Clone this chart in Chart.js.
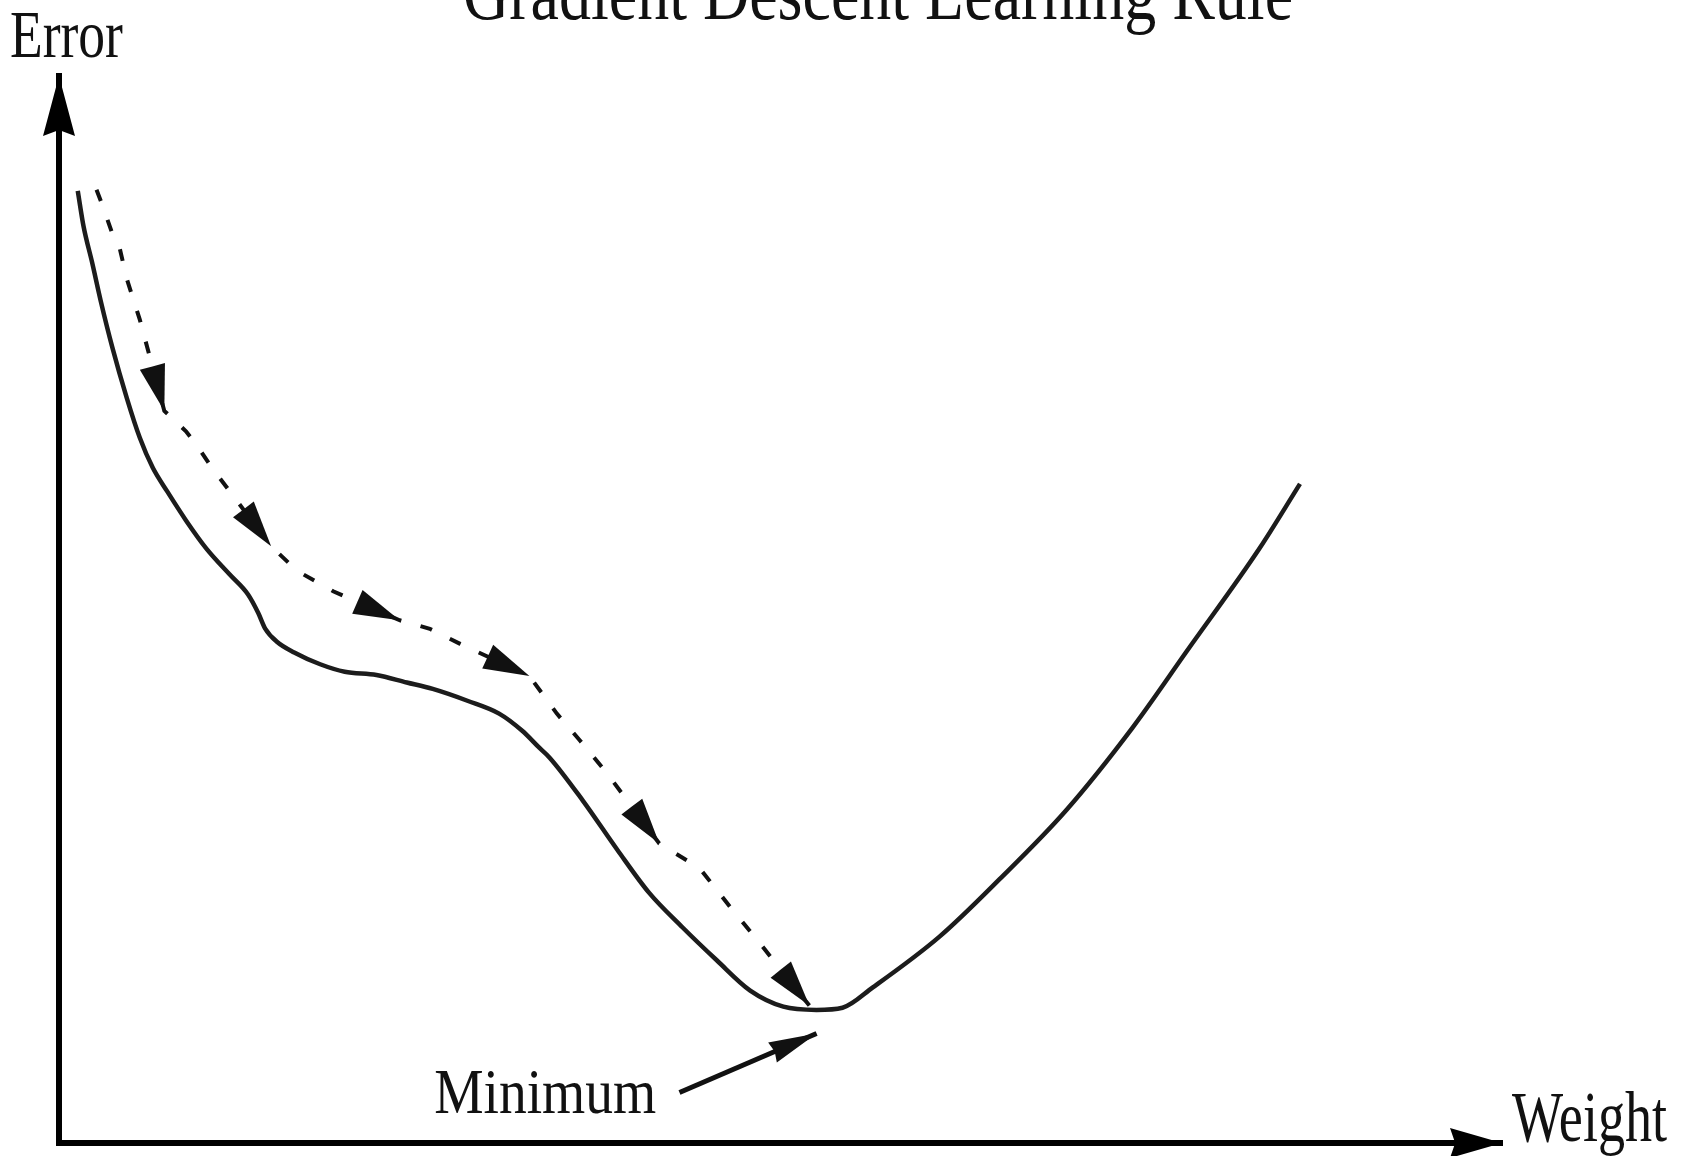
<!DOCTYPE html>
<html>
<head>
<meta charset="utf-8">
<script src="https://cdn.jsdelivr.net/npm/chart.js@4.4.1/dist/chart.umd.min.js"></script>
<style>
html,body{margin:0;padding:0;background:#fff;overflow:hidden}
canvas{display:block}
</style>
</head>
<body>
<canvas id="c" width="1690" height="1156"></canvas>
<script>
// ---- data (weight / error units) ----
const curveWeight = [1.3,1.7,2.3,2.9,3.7,4.7,5.6,6.5,7.5,8.8,10.2,11.8,13.1,13.8,14.3,15.1,16.3,18.1,19.8,22.0,24.1,25.9,28.3,30.5,32.1,33.3,34.0,36.3,38.7,40.9,43.2,45.6,47.9,50.2,52.5,54.3,56.4,61.0,65.2,69.8,74.4,78.2,83.2,86.0];
const curveError  = [88.7,85.4,82.0,78.4,74.1,69.4,65.7,62.9,60.7,58.0,55.4,53.0,51.1,49.4,47.9,46.7,45.7,44.6,43.9,43.6,42.9,42.3,41.2,40.0,38.4,36.8,35.9,31.9,27.3,23.3,20.1,17.0,14.2,12.7,12.4,12.6,14.5,19.2,24.6,31.0,38.7,45.9,55.4,61.4];

const descentWeight = [2.6,3.0,3.7,4.2,4.7,5.6,7.3,8.8,9.5,10.6,14.7,16.5,19.0,23.6,25.7,27.8,32.6,34.5,36.1,38.0,41.6,44.4,46.5,48.4,52.0];
const descentError  = [88.8,87.4,84.7,83.4,80.5,76.7,68.2,66.3,65.1,62.9,55.6,53.3,51.4,48.7,47.9,46.5,43.5,40.0,37.5,34.4,27.9,25.6,22.0,18.9,12.8];
const descentArrowTips = [6,10,13,16,20,24];

const minimumArrowWeight = [43.0, 52.5];
const minimumArrowError  = [4.7, 10.2];

const titleText = 'Gradient Descent Learning Rule';
const yAxisLabel = 'Error';
const xAxisLabel = 'Weight';
const minimumLabel = 'Minimum';

// ---- helpers ----
const toPoints = (xs, ys) => xs.map((x, i) => ({ x: x, y: ys[i] }));

const textPlacements = [
  { text: titleText,    x: 28.0,   y: 104.75, width: 830, capHeight: 50 },
  { text: yAxisLabel,   x: -3.4,   y: 101.2,  width: 113, capHeight: 45 },
  { text: xAxisLabel,   x: 100.7,  y: 0.2,    width: 155, capHeight: 47 },
  { text: minimumLabel, x: 26.0,   y: 2.8,    width: 222, capHeight: 42 }
];

function arrowHead(ctx, tx, ty, angle, len, half, notch, color) {
  ctx.save();
  ctx.translate(tx, ty);
  ctx.rotate(angle);
  ctx.beginPath();
  ctx.moveTo(0, 0);
  ctx.lineTo(-len, -half);
  ctx.lineTo(-len * notch, 0);
  ctx.lineTo(-len, half);
  ctx.closePath();
  ctx.fillStyle = color;
  ctx.fill();
  ctx.restore();
}

function stretchedText(ctx, text, x, baseline, width, capH) {
  const fontPx = capH / 0.662;
  ctx.save();
  ctx.font = fontPx + 'px "Liberation Serif", "Times New Roman", serif';
  const w = ctx.measureText(text).width;
  ctx.translate(x, baseline);
  ctx.scale(width / w, 1);
  ctx.fillStyle = '#111';
  ctx.textBaseline = 'alphabetic';
  ctx.textAlign = 'left';
  ctx.fillText(text, 0, 0);
  ctx.restore();
}

const diagramPlugin = {
  id: 'diagram',
  afterDatasetsDraw(chart) {
    const ctx = chart.ctx;
    const xs = chart.scales.x, ys = chart.scales.y;
    const area = chart.chartArea;

    // axis arrowheads
    const ox = xs.getPixelForValue(0);
    const oy = ys.getPixelForValue(0);
    arrowHead(ctx, ox, area.top, -Math.PI / 2, 60, 16, 0.9, '#000');
    arrowHead(ctx, area.right, oy, 0, 52, 15, 0.9, '#000');

    // descent step arrowheads
    const pts = chart.getDatasetMeta(1).data;
    descentArrowTips.forEach(i => {
      const tip = pts[i], prev = pts[i - 1];
      const a = Math.atan2(tip.y - prev.y, tip.x - prev.x);
      arrowHead(ctx, tip.x, tip.y, a, 46, 13, 1.0, '#111');
    });

    // minimum pointer arrowhead
    const mp = chart.getDatasetMeta(2).data;
    const a2 = Math.atan2(mp[1].y - mp[0].y, mp[1].x - mp[0].x);
    arrowHead(ctx, mp[1].x, mp[1].y, a2, 48, 11, 0.95, '#111');

    // texts
    textPlacements.forEach(t => {
      stretchedText(ctx, t.text, xs.getPixelForValue(t.x), ys.getPixelForValue(t.y), t.width, t.capHeight);
    });
  }
};

new Chart(document.getElementById('c'), {
  type: 'scatter',
  data: {
    datasets: [
      {
        label: 'Error curve',
        data: toPoints(curveWeight, curveError),
        showLine: true,
        borderColor: '#1c1c1c',
        borderWidth: 4.5,
        cubicInterpolationMode: 'monotone',
        pointRadius: 0,
        fill: false
      },
      {
        label: 'Descent steps',
        data: toPoints(descentWeight, descentError),
        showLine: true,
        borderColor: '#111',
        borderWidth: 4,
        borderDash: [12, 20],
        borderCapStyle: 'butt',
        tension: 0,
        pointRadius: 0,
        fill: false
      },
      {
        label: 'Minimum pointer',
        data: toPoints(minimumArrowWeight, minimumArrowError),
        showLine: true,
        borderColor: '#111',
        borderWidth: 5,
        tension: 0,
        pointRadius: 0,
        fill: false
      }
    ]
  },
  options: {
    responsive: false,
    animation: false,
    devicePixelRatio: 1,
    layout: { padding: { left: 59, top: 76, right: 188, bottom: 13 } },
    plugins: {
      legend: { display: false },
      tooltip: { enabled: false },
      title: { display: false }
    },
    scales: {
      x: {
        type: 'linear', position: 'bottom', min: 0, max: 100,
        grid: { display: false, drawTicks: false },
        ticks: { display: false },
        border: { display: true, color: '#000', width: 6 },
        afterFit: s => { s.height = 0; }
      },
      y: {
        type: 'linear', position: 'left', min: 0, max: 99.4,
        grid: { display: false, drawTicks: false },
        ticks: { display: false },
        border: { display: true, color: '#000', width: 6 },
        afterFit: s => { s.width = 0; }
      }
    }
  },
  plugins: [diagramPlugin]
});
</script>
</body>
</html>
